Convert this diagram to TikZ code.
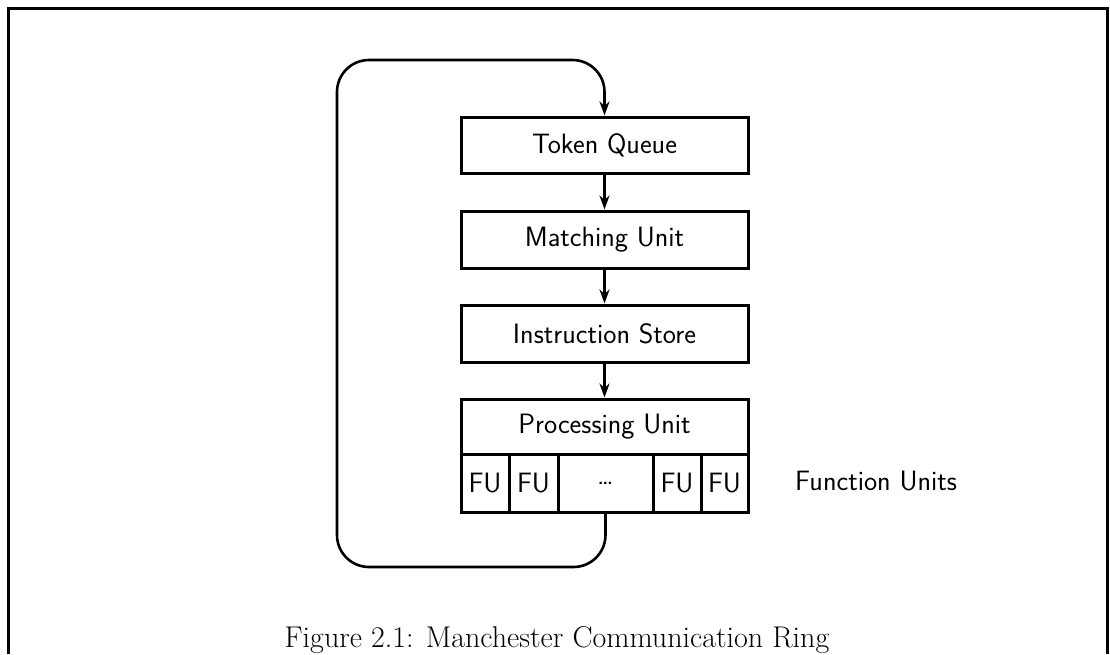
\documentclass[tikz,border=0pt]{standalone}
\usetikzlibrary{arrows.meta}
\begin{document}
\begin{tikzpicture}[x=1pt,y=-1pt,
  unit/.style={draw,line width=3pt,rectangle,minimum width=287pt,inner sep=0pt,font=\sffamily\fontsize{28}{32}\selectfont},
  cell/.style={draw,line width=3pt,rectangle,minimum height=58pt,inner sep=0pt,font=\sffamily\fontsize{28}{32}\selectfont},
  conn/.style={line width=2.6pt,-{Stealth[length=14pt,width=10pt]}},
  ring/.style={line width=2.6pt,rounded corners=32pt}]
\useasboundingbox (0,0) rectangle (1110,654);
\draw[line width=3pt] (8,654) -- (8,8) -- (1107,8) -- (1107,654);
\node[unit,minimum height=56pt] (tq) at (604.5,145) {Token Queue};
\node[unit,minimum height=57pt] (mu) at (604.5,239.5) {Matching Unit};
\node[unit,minimum height=57pt] (is) at (604.5,333.5) {Instruction Store};
\node[unit,minimum height=55pt] (pu) at (604.5,426.5) {Processing Unit};
\node[cell,minimum width=48pt] (f1) at (485,483) {FU};
\node[cell,minimum width=49pt] (f2) at (533.5,483) {FU};
\node[cell,minimum width=95pt] (f3) at (605.5,483) {\ldots};
\node[cell,minimum width=48pt] (f4) at (677,483) {FU};
\node[cell,minimum width=47pt] (f5) at (724.5,483) {FU};
\node[font=\sffamily\fontsize{28}{32}\selectfont,anchor=west,inner sep=0pt] (fu) at (795,481) {Function Units};
\draw[conn] (tq) -- (mu);
\draw[conn] (mu) -- (is);
\draw[conn] (is) -- (pu);
\coordinate (bl) at (337,567);
\coordinate (tl) at (337,60);
\draw[ring,-{Stealth[length=14pt,width=10pt]}] (f3.south) |- (bl) -- (tl) -| (tq.north);
\node[font=\fontsize{30}{36}\selectfont,anchor=base,inner sep=0pt] (cap) at (557,647) {Figure 2.1: Manchester Communication Ring};
\end{tikzpicture}
\end{document}
